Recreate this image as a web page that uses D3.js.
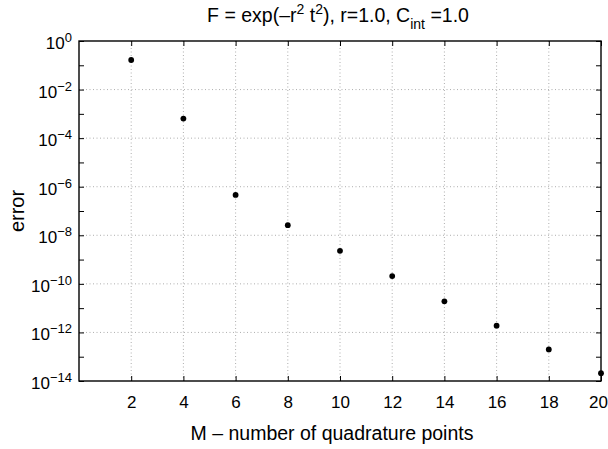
<!DOCTYPE html>
<html>
<head>
<meta charset="utf-8">
<script src="https://cdn.jsdelivr.net/npm/d3@7"></script>
<style>
  body { margin: 0; background: #fff; }
  svg { font-family: "Liberation Sans", Arial, sans-serif; }
  .grid line { stroke: #999; stroke-dasharray: 1,2.5; stroke-width: 0.8; }
</style>
</head>
<body>
<svg id="chart" width="608" height="449"></svg>
<script>
// data
const M = [2, 4, 6, 8, 10, 12, 14, 16, 18, 20];
const errors = [1.65e-1, 6.4e-4, 4.6e-7, 2.6e-8, 2.3e-9, 2.1e-10, 1.9e-11, 1.9e-12, 2.0e-13, 2.1e-14];
const xTicks = [2, 4, 6, 8, 10, 12, 14, 16, 18, 20];
const yMajor = [0, -2, -4, -6, -8, -10, -12, -14];
const yMinor = [-1, -3, -5, -7, -9, -11, -13];

const margin = { top: 41, right: 7, bottom: 68, left: 79 };
const svg = d3.select('#chart');
const W = +svg.attr('width'), H = +svg.attr('height');
const w = W - margin.left - margin.right;
const h = H - margin.top - margin.bottom;

const g = svg.append('g').attr('transform', `translate(${margin.left},${margin.top})`);

const x = d3.scaleLinear().domain([0, 20]).range([0, w]);
const y = d3.scaleLog().domain([1e-14, 1]).range([h, 0]);

// grid
g.append('g')
  .attr('class', 'grid')
  .selectAll('line')
  .data(xTicks.slice(0, -1))
  .enter()
  .append('line')
  .attr('x1', d => x(d)).attr('x2', d => x(d))
  .attr('y1', 0).attr('y2', h);

g.append('g')
  .attr('class', 'grid')
  .selectAll('line')
  .data(yMajor.slice(1, -1))
  .enter()
  .append('line')
  .attr('x1', 0).attr('x2', w)
  .attr('y1', d => y(Math.pow(10, d))).attr('y2', d => y(Math.pow(10, d)));

// ticks (inward, all four sides)
const tickLen = 5;
const axisStyle = sel => {
  sel.select('.domain').remove();
  sel.selectAll('.tick line').attr('stroke', '#000').attr('stroke-width', 1);
};

g.append('g')
  .attr('transform', `translate(0,${h})`)
  .call(d3.axisBottom(x).tickValues(xTicks).tickSizeInner(-tickLen).tickSizeOuter(0).tickPadding(15))
  .call(axisStyle)
  .call(a => a.selectAll('text').attr('font-size', 17).attr('fill', '#000').attr('font-family', null))
  .call(a => a.selectAll('.tick').filter(d => d === 20).select('text').attr('dx', -3));

g.append('g')
  .call(d3.axisTop(x).tickValues(xTicks).tickSizeInner(-tickLen).tickSizeOuter(0).tickFormat(''))
  .call(axisStyle);

const yTickVals = yMajor.concat(yMinor).map(e => Math.pow(10, e));

g.append('g')
  .call(d3.axisLeft(y).tickValues(yTickVals).tickSizeInner(-tickLen).tickSizeOuter(0).tickFormat(''))
  .call(axisStyle);

g.append('g')
  .attr('transform', `translate(${w},0)`)
  .call(d3.axisRight(y).tickValues(yTickVals).tickSizeInner(-tickLen).tickSizeOuter(0).tickFormat(''))
  .call(axisStyle);

// y tick labels with superscript exponents
const yLab = g.append('g').attr('class', 'ylabels');
yMajor.forEach(e => {
  const t = yLab.append('text')
    .attr('x', -7)
    .attr('y', y(Math.pow(10, e)) + 8)
    .attr('text-anchor', 'end')
    .attr('font-size', 17);
  t.append('tspan').text('10');
  t.append('tspan')
    .attr('dy', -7)
    .attr('font-size', 13)
    .text(e === 0 ? '0' : '\u2212' + Math.abs(e));
});

// frame
g.append('rect')
  .attr('width', w).attr('height', h)
  .attr('fill', 'none')
  .attr('stroke', '#000')
  .attr('stroke-width', 1.4);

// points
g.append('g')
  .selectAll('circle')
  .data(M)
  .enter()
  .append('circle')
  .attr('cx', d => x(d))
  .attr('cy', (d, i) => y(errors[i]))
  .attr('r', 2.9)
  .attr('fill', '#000');

// title
const title = svg.append('text')
  .attr('x', 338)
  .attr('y', 22)
  .attr('text-anchor', 'middle')
  .attr('font-size', 19.5);
title.append('tspan').text('F = exp(\u2013r');
title.append('tspan').attr('dy', -8).attr('font-size', 14).text('2');
title.append('tspan').attr('dy', 8).text(' t');
title.append('tspan').attr('dy', -8).attr('font-size', 14).text('2');
title.append('tspan').attr('dy', 8).text('), r=1.0, C');
title.append('tspan').attr('dy', 7).attr('font-size', 14).text('int');
title.append('tspan').attr('dy', -7).text(' =1.0');

// axis labels
svg.append('text')
  .attr('x', 332)
  .attr('y', 440)
  .attr('text-anchor', 'middle')
  .attr('font-size', 19.5)
  .text('M \u2013 number of quadrature points');

svg.append('text')
  .attr('transform', `translate(24,${margin.top + h / 2}) rotate(-90)`)
  .attr('text-anchor', 'middle')
  .attr('font-size', 20)
  .text('error');
</script>
</body>
</html>
